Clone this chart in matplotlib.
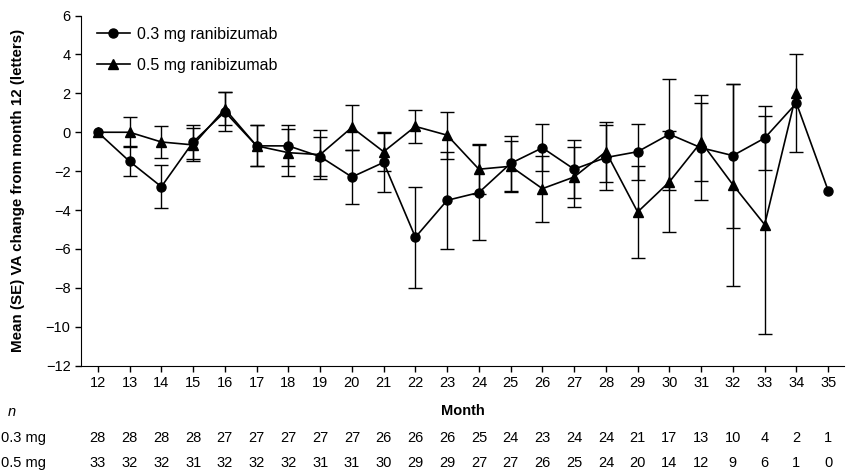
import numpy as np
import matplotlib.pyplot as plt
from matplotlib.lines import Line2D

plt.rcParams['font.family'] = ['Liberation Sans', 'DejaVu Sans']

# Data
months = list(range(12, 36))
mean_03 = [0, -1.5, -2.8, -0.5, 1.05, -0.7, -0.7, -1.25, -2.3, -1.55, -5.4, -3.5,
           -3.1, -1.6, -0.8, -1.9, -1.3, -1.0, -0.1, -0.8, -1.2, -0.3, 1.5, -3.0]
se_03 = [np.nan, 0.77, 1.1, 0.85, 1.0, 1.05, 1.05, 1.0, 1.4, 1.5, 2.6, 2.5,
         2.45, 1.4, 1.2, 1.5, 1.65, 1.45, 2.85, 2.7, 3.7, 1.65, 2.5, np.nan]
mean_05 = [0, 0, -0.5, -0.65, 1.2, -0.7, -1.05, -1.15, 0.25, -1.0, 0.3, -0.15,
           -1.9, -1.75, -2.9, -2.3, -1.0, -4.1, -2.55, -0.5, -2.7, -4.75, 2.0, np.nan]
se_05 = [np.nan, 0.77, 0.83, 0.85, 0.85, 1.05, 1.2, 1.25, 1.15, 1.0, 0.85, 1.2,
         1.3, 1.3, 1.7, 1.55, 1.55, 2.35, 2.6, 2.0, 5.2, 5.6, np.nan, np.nan]
n_03 = [28, 28, 28, 28, 27, 27, 27, 27, 27, 26, 26, 26, 25, 24, 23, 24, 24, 21, 17, 13, 10, 4, 2, 1]
n_05 = [33, 32, 32, 31, 32, 32, 32, 31, 31, 30, 29, 29, 27, 27, 26, 25, 24, 20, 14, 12, 9, 6, 1, 0]

fig = plt.figure(figsize=(8.53, 4.74), dpi=100)
ax = fig.add_axes([0.095, 0.2287, 0.8945, 0.7384])

common = dict(color='black', ecolor='black', elinewidth=1.0, capsize=5,
              capthick=1.0, lw=1.2, markersize=6.5)
ax.errorbar(months, mean_03, yerr=se_03, fmt='-o', **common)
ax.errorbar(months, mean_05, yerr=se_05, fmt='-^', **common)

ax.set_xlim(11.47, 35.5)
ax.set_ylim(-12, 6)
ax.set_yticks(range(-12, 7, 2))
ax.set_yticklabels([str(v).replace('-', '\u2212') for v in range(-12, 7, 2)])
ax.set_xticks(months)
ax.tick_params(labelsize=10.5, length=4, width=1)
for s in ['top', 'right']:
    ax.spines[s].set_visible(False)

ax.set_ylabel('Mean (SE) VA change from month 12 (letters)', fontsize=10.9,
              fontweight='bold', labelpad=15)
ax.set_xlabel('Month', fontsize=10.5, fontweight='bold', labelpad=10)

handles = [Line2D([], [], color='black', marker='o', lw=1.2, markersize=6.5),
           Line2D([], [], color='black', marker='^', lw=1.2, markersize=6.5)]
ax.legend(handles, ['0.3 mg ranibizumab', '0.5 mg ranibizumab'], loc='upper left',
          bbox_to_anchor=(0.01, 0.99), frameon=False, fontsize=11.5,
          handlelength=2.1, handletextpad=0.4, labelspacing=1.0, borderpad=0)

# n table below the axis
tr = ax.get_xaxis_transform()
fig.text(0.009, (474 - 412) / 474, 'n', fontsize=10.5, style='italic', va='center')
fig.text(0.001, (474 - 438) / 474, '0.3 mg', fontsize=10.5, va='center')
fig.text(0.001, (474 - 463) / 474, '0.5 mg', fontsize=10.5, va='center')
for m, a, b in zip(months, n_03, n_05):
    ax.text(m, -0.207, str(a), transform=tr, ha='center', va='center', fontsize=10.5)
    ax.text(m, -0.278, str(b), transform=tr, ha='center', va='center', fontsize=10.5)

fig.savefig('out.png', dpi=100)
